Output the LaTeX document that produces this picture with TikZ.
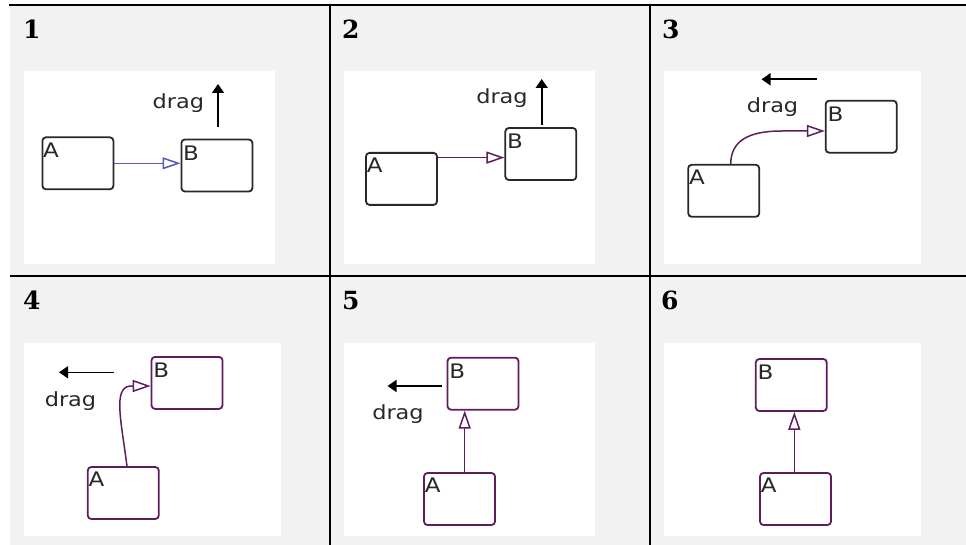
\documentclass[tikz,border=0pt]{standalone}
\usepackage{fontspec}
\newfontfamily\guifont{DejaVu Sans}
\newfontfamily\numfont{DejaVu Serif}
\usetikzlibrary{arrows.meta}
\definecolor{cellgrey}{HTML}{F2F2F2}
\definecolor{stpurple}{RGB}{94,30,94}
\definecolor{stblue}{RGB}{82,92,178}
\definecolor{stdark}{RGB}{40,40,40}
\newcommand{\gxs}[1]{\scalebox{1.15}[1]{#1}}
\begin{document}
\begin{tikzpicture}[x=1pt,y=-1pt,
  st/.style={draw, rounded corners=3.5pt, line width=1.8pt, minimum width=71pt, minimum height=52pt, inner sep=0pt},
  stk/.style={st, draw=stdark},
  stp/.style={st, draw=stpurple},
  lab/.style={font=\guifont\fontsize{20}{20}\selectfont, inner sep=0pt, anchor=north west, text=stdark},
  dragtxt/.style={font=\guifont\fontsize{19.5}{19.5}\selectfont, inner sep=0pt, anchor=base, text=stdark},
  num/.style={font=\numfont\bfseries\fontsize{25}{25}\selectfont, inner sep=0pt, anchor=base west},
  trans/.style={line width=1.5pt, draw=stpurple, -{Triangle[open, length=18pt, width=12pt]}},
  dragarrow/.style={line width=1.6pt, black, -{Triangle[length=9pt, width=12pt]}},
  grid/.style={line width=2pt, black}
]
\useasboundingbox (0,0) rectangle (966,545);
\fill[white] (0,0) rectangle (966,545);
\fill[cellgrey] (10,5) rectangle (966,545);
% white panels
\fill[white] (24,71) rectangle (275,264);
\fill[white] (344,71) rectangle (595,264);
\fill[white] (664,71) rectangle (921,264);
\fill[white] (24,343) rectangle (281,536);
\fill[white] (344,343) rectangle (595,536);
\fill[white] (664,343) rectangle (921,536);
% grid lines
\draw[grid] (9,5.5) -- (966,5.5);
\draw[grid] (10,276) -- (966,276);
\draw[grid] (330,4.5) -- (330,545);
\draw[grid] (649.5,4.5) -- (649.5,545);
% numbers
\node[num] (n1) at (23,38.5) {1};
\node[num] (n2) at (342,38.5) {2};
\node[num] (n3) at (662,38.5) {3};
\node[num] (n4) at (23,309.5) {4};
\node[num] (n5) at (342,309.5) {5};
\node[num] (n6) at (661,309.5) {6};

% ---------- panel 1
\node[stk] (A1) at (77.9,163.3) {};
\node[stk] (B1) at (216.9,165.5) {};
\node[lab] (A1l) at ([xshift=1.5pt,yshift=-6pt]A1.north west) {\gxs{A}};
\node[lab] (B1l) at ([xshift=2.5pt,yshift=-7pt]B1.north west) {\gxs{B}};
\draw[trans, draw=stblue] (A1.east) -- (A1.east -| B1.west);
\coordinate (d1s) at (218,127);
\coordinate (d1e) at (218,84);
\draw[dragarrow] (d1s) -- (d1e);
\node[dragtxt] (t1) at (178.3,109) {\gxs{drag}};

% ---------- panel 2
\node[stk] (A2) at (401.5,178.9) {};
\node[stk] (B2) at (540.8,154) {};
\node[lab] (A2l) at ([xshift=1.5pt,yshift=-6pt]A2.north west) {\gxs{A}};
\node[lab] (B2l) at ([xshift=2.5pt,yshift=-7pt]B2.north west) {\gxs{B}};
\draw[trans] ([yshift=-5.6pt]A2.north east) -- ([yshift=-5.6pt]A2.north east -| B2.west);
\coordinate (d2s) at (541.7,125);
\coordinate (d2e) at (541.7,79);
\draw[dragarrow] (d2s) -- (d2e);
\node[dragtxt] (t2) at (502,104) {\gxs{drag}};

% ---------- panel 3
\node[stk] (A3) at (723.7,190.8) {};
\node[stk] (B3) at (861.2,126.7) {};
\node[lab] (A3l) at ([xshift=1.5pt,yshift=-6pt]A3.north west) {\gxs{A}};
\node[lab] (B3l) at ([xshift=2.5pt,yshift=-7pt]B3.north west) {\gxs{B}};
\coordinate (c3) at (782,131);
\draw[trans] ([xshift=7pt]A3.north) .. controls (731,141) and (748,131) .. (c3) -- ([yshift=-4.3pt]B3.west);
\coordinate (d3s) at (816.7,79.3);
\coordinate (d3e) at (761.5,79.3);
\draw[dragarrow] (d3s) -- (d3e);
\node[dragtxt] (t3) at (772.5,112.3) {\gxs{drag}};

% ---------- panel 4
\node[stp] (A4) at (123.3,493) {};
\node[stp] (B4) at (187,382.9) {};
\node[lab] (A4l) at ([xshift=1.5pt,yshift=-6pt]A4.north west) {\gxs{A}};
\node[lab] (B4l) at ([xshift=2.5pt,yshift=-7pt]B4.north west) {\gxs{B}};
\coordinate (c4b) at (130,386);
\draw[trans] ([xshift=3.7pt]A4.north) .. controls (121,420) and (113,388) .. (c4b) -- ([yshift=-3.1pt]B4.west);
\coordinate (d4s) at (114.3,372.3);
\coordinate (d4e) at (59,372.3);
\draw[dragarrow] (d4s) -- (d4e);
\node[dragtxt] (t4) at (70.5,406.7) {\gxs{drag}};

% ---------- panel 5
\node[stp] (A5) at (459.5,499) {};
\node[stp] (B5) at (483,383.7) {};
\node[lab] (A5l) at ([xshift=1.5pt,yshift=-6pt]A5.north west) {\gxs{A}};
\node[lab] (B5l) at ([xshift=2.5pt,yshift=-7pt]B5.north west) {\gxs{B}};
\draw[trans] ([xshift=5.2pt]A5.north) -- ([xshift=5.2pt]A5.north |- B5.south);
\coordinate (d5s) at (442.3,386);
\coordinate (d5e) at (387.5,386);
\draw[dragarrow] (d5s) -- (d5e);
\node[dragtxt] (t5) at (398,419.3) {\gxs{drag}};

% ---------- panel 6
\node[stp] (A6) at (795.5,499) {};
\node[stp] (B6) at (791.3,385) {};
\node[lab] (A6l) at ([xshift=1.5pt,yshift=-6pt]A6.north west) {\gxs{A}};
\node[lab] (B6l) at ([xshift=2.5pt,yshift=-7pt]B6.north west) {\gxs{B}};
\draw[trans] ([xshift=-1.2pt]A6.north) -- ([xshift=-1.2pt]A6.north |- B6.south);
\end{tikzpicture}
\end{document}
